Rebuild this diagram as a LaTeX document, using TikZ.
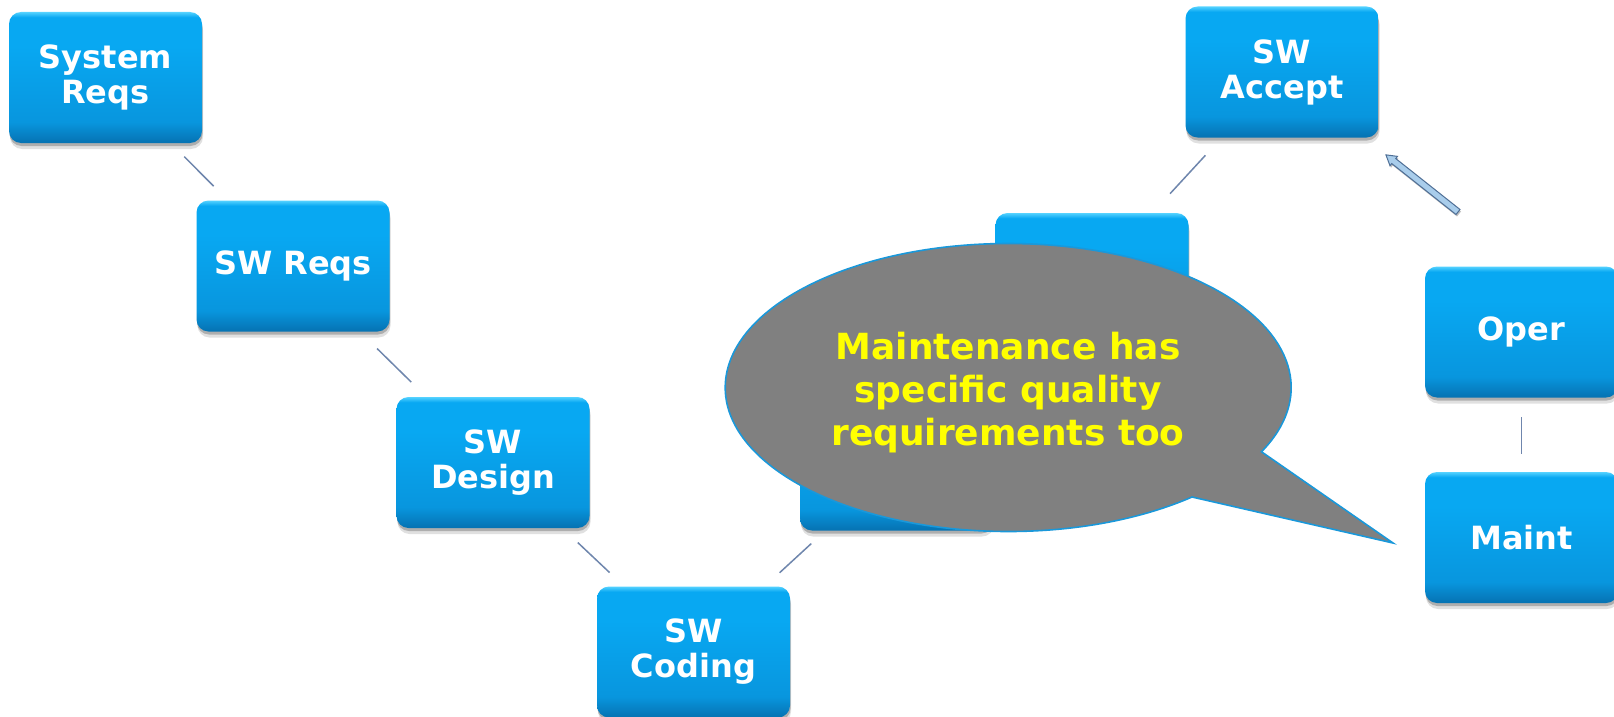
\documentclass[tikz,border=0pt]{standalone}
\usepackage{fontspec}
\setmainfont{DejaVu Sans}
\usetikzlibrary{shadows,calc}

\definecolor{boxhi}{HTML}{55D2FF}
\definecolor{boxtop}{HTML}{08A8F2}
\definecolor{boxmid}{HTML}{0896DE}
\definecolor{boxbot}{HTML}{0672B2}
\definecolor{linkcol}{HTML}{6F86AD}
\definecolor{arrlight}{HTML}{A9CDEB}
\definecolor{arrdark}{HTML}{4F6F96}
\definecolor{notegray}{HTML}{808080}
\definecolor{noteedge}{HTML}{1A98DA}
\definecolor{noteyellow}{HTML}{FFFF00}

% glossy blue fill of the phase boxes (path spans 25bp..75bp)
\pgfdeclareverticalshading{phaseshade}{100bp}{%
  color(0bp)=(boxbot); color(25bp)=(boxbot); color(33bp)=(boxmid);
  color(62bp)=(boxtop); color(73bp)=(boxtop); color(75bp)=(boxhi); color(100bp)=(boxhi)}

\begin{document}
\begin{tikzpicture}[x=1pt,y=-1pt,
  phase/.style={rounded corners=12pt, minimum width=193pt, minimum height=131pt,
    shading=phaseshade, draw=none,
    text=white, font=\bfseries\fontsize{32}{35}\selectfont, align=center, inner sep=0pt,
    drop shadow={shadow xshift=1pt, shadow yshift=-6pt, opacity=0.12, fill=black},
    drop shadow={shadow xshift=0.5pt, shadow yshift=-3pt, opacity=0.22, fill=black}},
  link/.style={draw=linkcol, line width=1.5pt},
  callout/.style={fill=notegray, draw=noteedge, line width=1.6pt, line join=miter},
  notetext/.style={text=noteyellow, font=\bfseries\fontsize{36}{43}\selectfont, align=center},
  blockarrow/.style={fill=arrlight, draw=arrdark, line width=1pt, line join=miter}
]
% canvas
\path[fill=white] (0,0) rectangle (1614,717);
\useasboundingbox (0,0) rectangle (1614,717);

% life-cycle phases
\node[phase] (sys)    at (105.5,77.5)   {System\\Reqs};
\node[phase] (swreq)  at (293,266)  {SW Reqs};
\node[phase] (swdes)  at (493,462.5)  {SW\\Design};
\node[phase] (swcod)  at (693.5,652)  {SW\\Coding};
\node[phase] (integ)  at (896.5,465)  {};
\node[phase] (test)   at (1092,278.5) {};
\node[phase] (accept) at (1282,72)    {SW\\Accept};
\node[phase] (oper)   at (1521.5,332) {Oper};
\node[phase] (maint)  at (1521.5,537.5) {Maint};

% links between phases
\draw[link, shorten <=19pt, shorten >=20pt] (sys) -- (swreq);
\draw[link, shorten <=24pt, shorten >=21pt] (swreq) -- (swdes);
\draw[link, shorten <=21pt, shorten >=20pt] (swdes) -- (swcod);
\draw[link, shorten <=20pt, shorten >=19pt] (swcod) -- (integ);
\draw[link, shorten <=26pt, shorten >=24pt] (test) -- (accept);
\draw[link, shorten <=18pt, shorten >=19pt] (maint) -- (oper);

% feedback arrow from operation back to acceptance
\coordinate (arrtail) at (1458,212);
\coordinate (arrtip)  at (1386,155);
\begin{scope}[shift={(arrtail)}, rotate=141.6]
  \filldraw[blockarrow, drop shadow={shadow xshift=1pt, shadow yshift=-2pt, opacity=0.25, fill=black}]
    (0pt,-3.2pt) -- (82pt,-3.2pt) -- (82pt,-6pt) -- (92pt,0pt) -- (82pt,6pt) -- (82pt,3.2pt) -- (0pt,3.2pt) -- cycle;
\end{scope}

% speech bubble
\path[callout] (1192,497) arc[start angle=49.5, end angle=386.5, x radius=283, y radius=144]
  -- (1393,543) -- cycle;
\node[notetext] (note) at (1008,393) {Maintenance has\\specific quality\\requirements too};
\end{tikzpicture}
\end{document}
